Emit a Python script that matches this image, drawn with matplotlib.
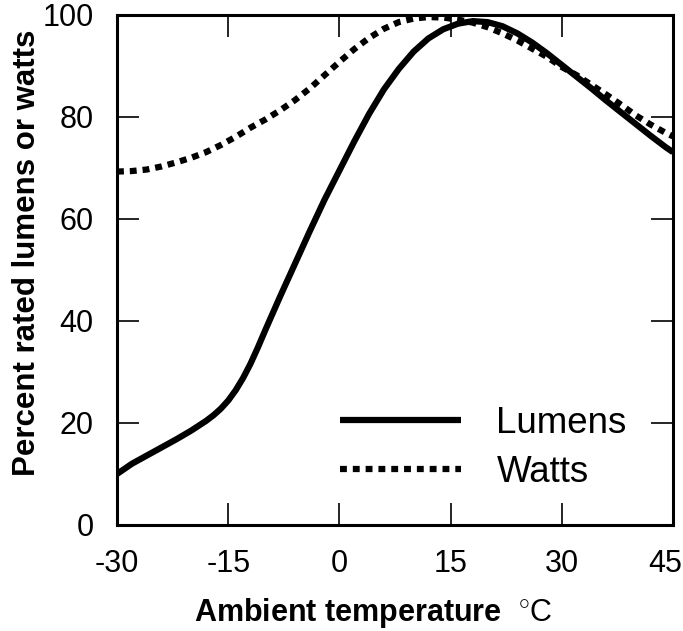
import matplotlib
matplotlib.use("Agg")
import matplotlib.pyplot as plt
from matplotlib.transforms import ScaledTranslation

plt.rcParams['font.family'] = ['Liberation Sans', 'DejaVu Sans']
plt.rcParams['axes.unicode_minus'] = False
plt.rcParams['mathtext.fontset'] = 'custom'
plt.rcParams['mathtext.rm'] = 'Liberation Sans'

temps = [-30, -28, -26, -24, -22, -20, -18, -17, -16, -15, -14, -13, -12, -11,
         -10, -8, -6, -4, -2, 0, 2, 4, 6, 8, 10, 12, 14, 16, 18, 20, 22, 24,
         26, 28, 30, 32, 34, 36, 38, 40, 42, 44, 45]
lumens = [10, 12, 13.6, 15.2, 16.8, 18.5, 20.4, 21.5, 22.8, 24.4, 26.4, 28.8, 31.6, 34.8,
          38.2, 44.8, 51.2, 57.6, 63.8, 69.5, 75.2, 80.6, 85.4, 89.4, 92.8, 95.4, 97.2, 98.3, 98.8, 98.6, 97.8, 96.4,
          94.6, 92.5, 90.2, 87.9, 85.6, 83.2, 80.9, 78.6, 76.3, 74.1, 73.1]
watts = [69.3, 69.4, 69.7, 70.3, 71.1, 72, 73.1, 73.8, 74.5, 75.3, 76.1, 77, 77.9, 78.7,
         79.5, 81.3, 83.3, 85.6, 88.2, 90.8, 93.3, 95.5, 97.3, 98.6, 99.3, 99.6, 99.5, 99.1, 98.5, 97.6, 96.4, 95,
         93.4, 91.8, 89.8, 88.2, 86.3, 84.4, 82.4, 80.3, 78.5, 76.9, 76.2]

xticks = [-30, -15, 0, 15, 30, 45]
xticklabels = ["-30", "-15", "0", "15", "30", "45"]
yticks = [0, 20, 40, 60, 80, 100]
yticklabels = ["0", "20", "40", "60", "80", "100"]

fig = plt.figure(figsize=(6.83, 6.31), dpi=100)
ax = fig.add_axes([117/683, 1-525/631, 556/683, 510/631])

ax.plot(temps, lumens, color='black', lw=4.5, solid_capstyle='butt',
        solid_joinstyle='round', label='Lumens')
ax.plot(temps, watts, color='black', lw=4.5, linestyle=(0, (1.1, 0.95)),
        dash_capstyle='butt', label='Watts')

ax.set_xlim(-30, 45)
ax.set_ylim(0, 100)
ax.set_xticks(xticks)
ax.set_xticklabels(xticklabels)
ax.set_yticks(yticks)
ax.set_yticklabels(yticklabels)
ax.tick_params(direction='in', length=16, width=1.2, top=True, right=True,
               labelsize=22, pad=17, colors='black')
last = ax.get_xticklabels()[-1]
last.set_horizontalalignment('right')
last.set_transform(last.get_transform() + ScaledTranslation(9/100, 0, fig.dpi_scale_trans))
for s in ax.spines.values():
    s.set_linewidth(2.2)

ax.set_xlabel(r"Ambient temperature  $^{\circ}\mathrm{C}$", fontsize=22, fontweight='bold')
ax.xaxis.set_label_coords(0.46, -0.14)
ax.set_ylabel("Percent rated lumens or watts", fontsize=22.5, fontweight='bold')
ax.yaxis.set_label_coords(-0.135, 0.533)

leg = ax.legend(loc='center left', bbox_to_anchor=(0.401, 0.151), frameon=False,
                fontsize=26.5, handlelength=3.3, handletextpad=0.95,
                labelspacing=0.4, borderpad=0, borderaxespad=0)

fig.savefig("out.png", dpi=100)
